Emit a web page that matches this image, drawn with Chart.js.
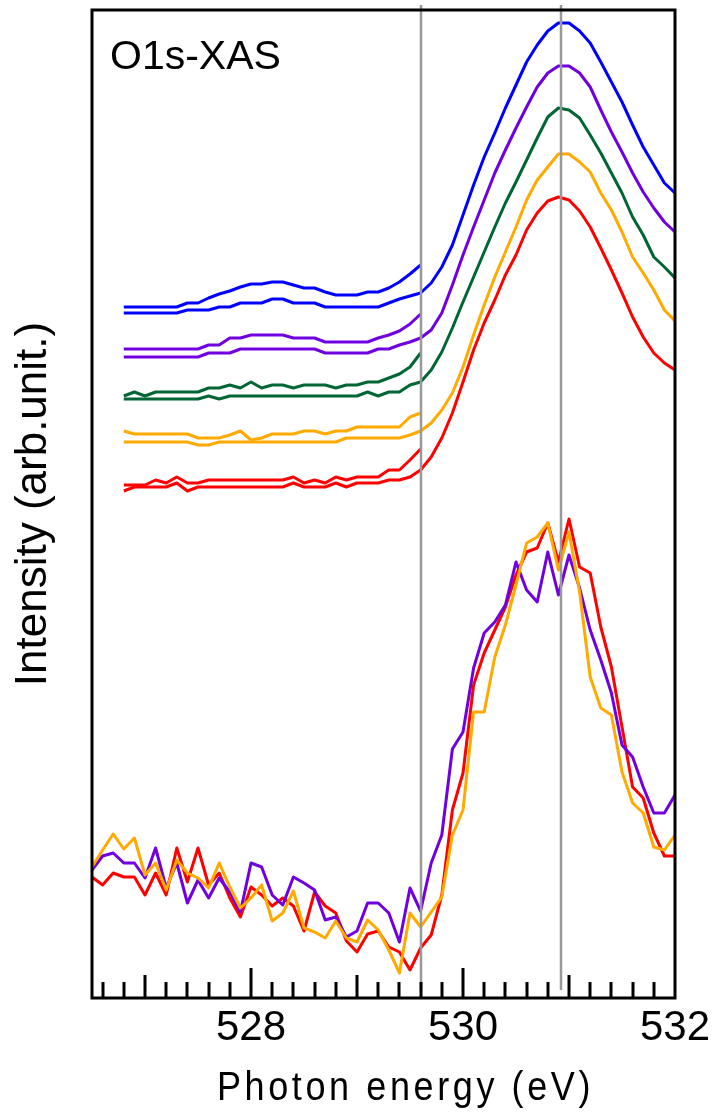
<!DOCTYPE html>
<html>
<head>
<meta charset="utf-8">
<script src="https://cdn.jsdelivr.net/npm/chart.js@4.4.1/dist/chart.umd.min.js"></script>
<style>
  html, body { margin: 0; padding: 0; background: #ffffff; }
  #wrap { width: 717px; height: 1114px; position: relative; }
</style>
</head>
<body>
<div id="wrap"><canvas id="c"></canvas></div>
<script>
// Photon energy grid (eV), 0.1 eV steps
const energyFull = [
  526.5, 526.6, 526.7, 526.8, 526.9, 527.0, 527.1, 527.2, 527.3, 527.4,
  527.5, 527.6, 527.7, 527.8, 527.9, 528.0, 528.1, 528.2, 528.3, 528.4,
  528.5, 528.6, 528.7, 528.8, 528.9, 529.0, 529.1, 529.2, 529.3, 529.4,
  529.5, 529.6, 529.7, 529.8, 529.9, 530.0, 530.1, 530.2, 530.3, 530.4,
  530.5, 530.6, 530.7, 530.8, 530.9, 531.0, 531.1, 531.2, 531.3, 531.4,
  531.5, 531.6, 531.7, 531.8, 531.9, 532.0
];
const energyLong = energyFull.slice(3);      // 526.8 – 532.0
const energyShort = energyFull.slice(3, 32); // 526.8 – 529.6

// Offset spectra: pre-edge traces (short) and full traces (long)
const blueShort = [69.1,69.1,69.1,69.1,69.1,69.1,69.5,69.5,70.0,70.4,70.7,71.1,71.4,71.4,71.6,71.6,71.3,71.0,71.0,70.6,70.3,70.3,70.3,70.6,70.6,71.0,71.6,72.4,73.3];
const blueLong = [68.5,68.5,68.5,68.5,68.5,68.5,68.8,68.8,68.8,69.1,69.1,69.5,69.5,69.5,69.9,69.9,69.5,69.5,69.5,69.1,69.1,69.1,69.1,69.1,69.1,69.5,69.9,70.2,70.5,
  71.5,73.1,75.3,78.3,81.3,84.1,86.5,89.0,91.3,93.6,95.3,96.7,97.5,97.5,96.7,95.5,93.6,91.6,89.6,87.3,85.1,83.3,81.5,80.5];

const purpleShort = [64.9,64.9,64.9,64.9,64.9,64.9,64.9,64.9,65.3,65.3,66.0,66.0,66.3,66.3,66.3,66.3,66.0,66.0,66.0,65.6,65.6,65.6,65.6,65.6,66.0,66.3,66.7,67.4,68.4];
const purpleLong = [64.1,64.1,64.1,64.1,64.1,64.1,64.1,64.1,64.5,64.5,64.5,64.9,64.9,64.9,64.9,64.9,64.9,64.9,64.9,64.5,64.5,64.5,64.5,64.5,64.9,64.9,65.3,65.6,66.0,
  66.8,68.5,71.3,74.3,77.1,79.8,82.5,84.8,87.0,89.1,91.1,92.5,93.2,93.2,92.5,91.1,88.8,86.6,84.6,82.5,80.6,79.0,77.6,76.6];

const greenShort = [60.2,60.6,60.2,60.6,60.6,60.6,60.6,60.6,61.0,61.0,61.3,61.0,61.6,61.0,61.3,61.3,61.0,61.3,61.3,61.3,61.0,61.3,61.3,61.6,61.6,62.0,62.4,63.1,64.5];
const greenLong = [59.9,59.9,59.9,59.9,59.9,59.9,59.9,59.9,60.2,59.9,60.2,60.2,60.2,60.2,60.2,60.2,60.2,60.2,60.2,60.2,60.2,60.2,60.2,60.6,60.2,60.6,60.6,61.3,61.6,
  62.8,64.6,67.0,69.6,72.1,74.6,77.1,79.5,81.6,83.8,86.0,88.1,89.0,88.8,88.0,86.3,84.5,82.5,80.5,78.1,76.3,74.1,73.1,72.0];

const orangeShort = [56.7,56.4,56.4,56.4,56.4,56.4,56.4,56.0,56.0,56.0,56.3,56.7,55.8,56.0,56.4,56.4,56.4,56.7,56.7,56.4,56.7,56.7,57.1,57.1,57.1,57.1,57.1,58.1,58.5];
const orangeLong = [55.6,55.6,55.6,55.6,55.6,55.6,55.6,55.3,55.3,55.6,55.6,55.6,55.6,55.6,55.6,55.6,55.6,55.6,55.6,55.6,55.6,56.0,56.0,56.0,56.0,56.0,56.0,56.3,56.7,
  57.5,58.8,60.5,63.1,66.3,69.3,72.1,74.6,77.1,79.8,81.8,83.1,84.4,84.4,83.6,82.6,80.5,78.8,76.6,74.1,72.5,70.8,68.8,67.7];

const redShort = [51.3,51.3,51.3,51.8,51.5,52.1,51.5,51.5,51.8,51.8,51.8,51.8,51.8,51.8,51.8,51.8,52.1,51.5,51.8,51.5,52.1,51.8,52.1,52.1,52.1,52.8,52.8,53.8,54.9];
const redLong = [50.7,51.1,51.1,51.1,51.1,51.5,50.7,51.1,51.1,51.1,51.1,51.1,51.1,51.1,51.1,51.1,51.5,51.1,51.1,51.1,51.5,51.1,51.5,51.5,51.5,51.8,51.8,52.1,52.8,
  54.1,56.0,58.5,61.6,64.8,67.5,69.8,72.3,74.3,76.8,78.5,79.7,80.1,79.8,78.7,77.1,75.0,72.8,70.5,68.1,66.1,64.5,63.5,62.8];

// Lower set (526.5 – 532.0)
const orangeLow = [13.1,14.8,16.4,14.9,16.0,12.3,13.5,10.8,13.8,12.5,12.0,11.0,13.5,11.1,9.0,10.0,11.3,7.7,8.5,10.7,7.0,6.6,6.0,7.7,6.0,5.6,7.8,6.8,4.8,2.5,8.5,7.1,
  8.6,10.1,16.3,18.8,28.6,28.6,34.1,37.3,41.3,45.5,46.1,47.5,42.8,46.6,40.6,32.1,29.0,28.3,22.6,19.5,18.5,15.1,14.8,16.3];
const purpleLow = [12.8,14.2,14.5,13.5,13.5,12.0,15.0,11.0,13.5,9.5,11.8,10.0,12.0,10.6,8.6,13.5,13.1,10.3,9.3,12.1,11.5,10.8,7.8,8.1,6.1,6.7,9.5,9.5,8.5,5.6,11.0,8.7,
  13.5,16.3,24.9,26.6,33.0,36.5,37.6,39.3,43.6,40.8,39.6,44.6,40.3,44.3,41.0,36.8,33.8,30.5,25.3,24.1,21.1,18.5,18.5,20.3];
const redLow = [12.1,11.3,12.5,12.1,12.1,10.3,12.5,10.3,15.0,11.6,15.0,11.3,12.5,10.0,8.1,11.1,10.3,9.2,10.0,9.2,6.7,10.6,9.2,8.5,5.7,4.6,6.4,6.7,5.1,4.6,2.8,5.0,
  6.3,10.3,18.8,22.5,31.3,34.5,36.8,39.1,42.3,44.6,45.0,47.5,43.6,47.9,43.1,42.5,37.1,33.1,27.1,21.1,20.0,16.5,14.2,14.2];

// Axis labels and reference energies
const xLabelValues = [528, 530, 532];
const refEnergies = [529.6, 530.92];

const COLORS = {
  blue: '#0000ff',
  purple: '#7000e0',
  green: '#006633',
  orange: '#ffaa00',
  red: '#ff0000'
};

function pts(xs, ys) { return ys.map((y, i) => ({ x: xs[i], y })); }
function trace(xs, ys, color) {
  return {
    data: pts(xs, ys),
    borderColor: color,
    backgroundColor: color,
    borderWidth: 3,
    pointRadius: 0,
    tension: 0,
    fill: false,
    borderJoinStyle: 'round',
    borderCapStyle: 'butt'
  };
}

const datasets = [
  trace(energyShort, blueShort, COLORS.blue),
  trace(energyLong, blueLong, COLORS.blue),
  trace(energyShort, purpleShort, COLORS.purple),
  trace(energyLong, purpleLong, COLORS.purple),
  trace(energyShort, greenShort, COLORS.green),
  trace(energyLong, greenLong, COLORS.green),
  trace(energyShort, orangeShort, COLORS.orange),
  trace(energyLong, orangeLong, COLORS.orange),
  trace(energyShort, redShort, COLORS.red),
  trace(energyLong, redLong, COLORS.red),
  trace(energyFull, orangeLow, COLORS.orange),
  trace(energyFull, purpleLow, COLORS.purple),
  trace(energyFull, redLow, COLORS.red)
];

const SANS = '"Liberation Sans", Arial, Helvetica, sans-serif';

// Frame, inward tick marks, reference lines and panel text
const decorations = {
  id: 'decorations',
  afterDatasetsDraw(chart) {
    const { ctx, chartArea: a, scales: { x } } = chart;
    ctx.save();

    ctx.strokeStyle = '#999999';
    ctx.lineWidth = 2.5;
    refEnergies.forEach(e => {
      const px = Math.round(x.getPixelForValue(e));
      ctx.beginPath();
      ctx.moveTo(px, a.top - 5);
      ctx.lineTo(px, a.bottom - 8);
      ctx.stroke();
    });

    ctx.strokeStyle = '#000';
    ctx.lineWidth = 3;
    for (let t = 5266; t <= 5318; t += 2) {
      const len = (t % 20 === 0) ? 30 : (t % 10 === 0 ? 23 : 16);
      const px = Math.round(x.getPixelForValue(t / 10));
      ctx.beginPath();
      ctx.moveTo(px, a.bottom);
      ctx.lineTo(px, a.bottom - len);
      ctx.stroke();
    }

    ctx.strokeRect(a.left, a.top, a.right - a.left, a.bottom - a.top);

    ctx.fillStyle = '#000';
    ctx.font = '41px ' + SANS;
    ctx.textBaseline = 'alphabetic';
    ctx.textAlign = 'left';
    ctx.fillText('O1s-XAS', a.left + 18, a.top + 59);
    ctx.restore();
  },
  afterDraw(chart) {
    // x-axis title: condensed, letter-spaced
    const { ctx, chartArea: a } = chart;
    ctx.save();
    ctx.fillStyle = '#000';
    ctx.font = '40px ' + SANS;
    ctx.textAlign = 'center';
    ctx.textBaseline = 'alphabetic';
    if ('letterSpacing' in ctx) ctx.letterSpacing = '4px';
    const cx = (a.left + a.right) / 2 + 22;
    ctx.translate(cx, 1100);
    ctx.scale(0.9, 1);
    ctx.fillText('Photon energy (eV)', 0, 0);
    ctx.restore();
  }
};

new Chart(document.getElementById('c'), {
  type: 'line',
  data: { datasets },
  options: {
    animation: false,
    responsive: true,
    maintainAspectRatio: false,
    devicePixelRatio: 1,
    layout: { padding: { top: 10, right: 42, bottom: 0, left: 0 } },
    plugins: { legend: { display: false }, tooltip: { enabled: false } },
    scales: {
      x: {
        type: 'linear',
        min: 526.5,
        max: 532,
        grid: { display: false, drawTicks: false },
        border: { display: false },
        afterBuildTicks: s => { s.ticks = xLabelValues.map(v => ({ value: v })); },
        afterFit: s => { s.height = 116; s.paddingLeft = 0; s.paddingRight = 0; },
        ticks: {
          autoSkip: false,
          maxRotation: 0,
          padding: 5,
          color: '#000',
          font: { family: SANS, size: 42 },
          callback: v => String(v)
        }
      },
      y: {
        type: 'linear',
        min: 0,
        max: 98.8,
        grid: { display: false, drawTicks: false },
        border: { display: false },
        ticks: { display: false },
        afterFit: s => { s.width = 92; },
        title: {
          display: true,
          text: 'Intensity (arb.unit.)',
          color: '#000',
          font: { family: SANS, size: 44 },
          padding: { top: 7, bottom: 0 }
        }
      }
    }
  },
  plugins: [decorations]
});
</script>
</body>
</html>
